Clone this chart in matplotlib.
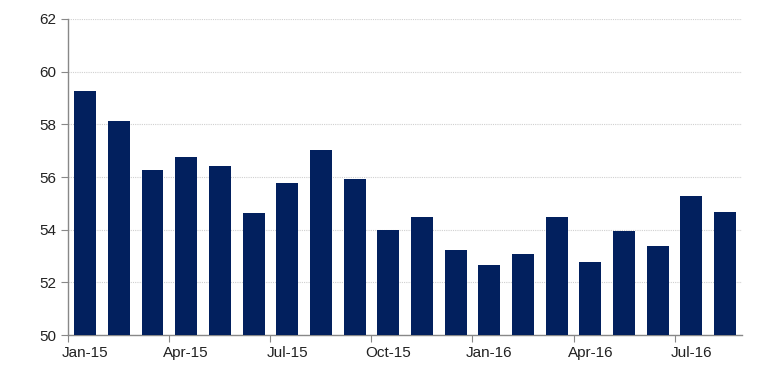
import matplotlib
matplotlib.use('Agg')
import matplotlib.pyplot as plt

# valores mensais (jan/15 a ago/16)
months = ['Jan-15', 'Feb-15', 'Mar-15', 'Apr-15', 'May-15', 'Jun-15', 'Jul-15',
          'Aug-15', 'Sep-15', 'Oct-15', 'Nov-15', 'Dec-15', 'Jan-16', 'Feb-16',
          'Mar-16', 'Apr-16', 'May-16', 'Jun-16', 'Jul-16', 'Aug-16']
values = [59.27, 58.13, 56.27, 56.76, 56.42, 54.64, 55.78, 57.03, 55.93, 53.99,
          54.49, 53.24, 52.67, 53.09, 54.49, 52.78, 53.96, 53.39, 55.29, 54.68]

plt.rcParams['font.family'] = ['Liberation Sans', 'DejaVu Sans']

fig = plt.figure(figsize=(7.68, 3.84), dpi=100)
ax = fig.add_axes([0.089, 0.127, 0.877, 0.824])

x = list(range(len(values)))
ax.bar(x, [v - 50 for v in values], bottom=50, width=0.65, color='#02205e', zorder=3)

ax.set_ylim(50, 62)
ax.set_yticks(range(50, 63, 2))
ax.set_xlim(-0.5, len(values) - 0.5)

# marcas nos limites dos trimestres, rotulos no centro da categoria
ax.set_xticks([i - 0.5 for i in range(0, len(values), 3)])
ax.set_xticklabels([])
ax.set_xticks(list(range(0, len(values), 3)), minor=True)
ax.set_xticklabels([months[i] for i in range(0, len(values), 3)], minor=True)
ax.tick_params(axis='x', which='major', length=5, color='#888888')
ax.tick_params(axis='x', which='minor', length=0, pad=8, labelsize=11, labelcolor='#222222')
ax.tick_params(axis='y', length=5, color='#888888', labelsize=11, labelcolor='#222222', pad=4)

ax.grid(axis='y', color='#d0d0d0', linestyle=(0, (1, 1)), linewidth=0.8, zorder=0)
for s in ['top', 'right']:
    ax.spines[s].set_visible(False)
for s in ['left', 'bottom']:
    ax.spines[s].set_color('#888888')
    ax.spines[s].set_linewidth(1)

fig.savefig('out.png', dpi=100)
